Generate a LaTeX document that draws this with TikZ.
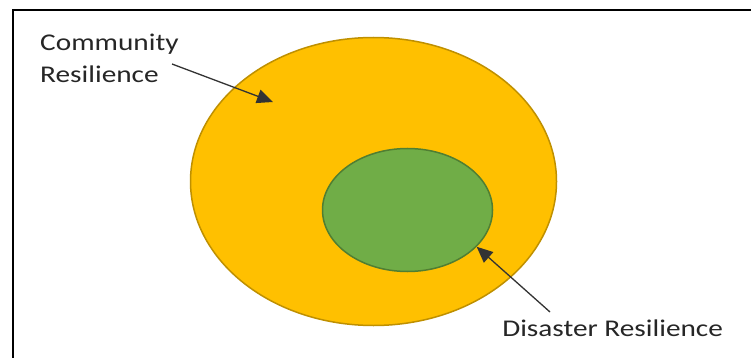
\documentclass[tikz,border=0pt]{standalone}
\usepackage{fontspec}
\setmainfont{Carlito}
\usetikzlibrary{arrows.meta,shapes.geometric}

\definecolor{gold}{HTML}{FFC000}
\definecolor{golddark}{HTML}{BF9000}
\definecolor{leaf}{HTML}{70AD47}
\definecolor{leafdark}{HTML}{507E32}

\begin{document}
\begin{tikzpicture}[x=1pt, y=-1pt,
    label/.style={inner sep=0pt, align=left, text=black!85,
        font=\fontsize{24}{32}\selectfont, xscale=1.22, transform shape},
    pointer/.style={draw=black!80, line width=1.3pt,
        -{Triangle[length=16pt, width=14pt]}}]
    \useasboundingbox (0,0) rectangle (751,358);
    \clip (0,0) rectangle (751,358);
    \fill[white] (0,0) rectangle (751,358);

    % frame, running past the picture on the right and at the bottom
    \draw[line width=2.6pt] (800,10) -- (13,10) -- (13,400);

    % the two circles
    \node[ellipse, draw=golddark, line width=1.5pt, fill=gold,
        minimum width=366pt, minimum height=288pt] (community) at (373.5,181.5) {};
    \node[ellipse, draw=leafdark, line width=1.5pt, fill=leaf,
        minimum width=170pt, minimum height=123pt] (disaster) at (407.5,210) {};

    % labels
    \node[label, anchor=north west] (commlabel) at (40,34) {Community\\Resilience};
    \node[label, anchor=base west] (dislabel) at (502,336) {Disaster Resilience};

    % arrows
    \coordinate (commstart) at (172,64);
    \coordinate (commtip) at (273,102);
    \coordinate (disstart) at (550,312);
    \draw[pointer] (commstart) -- (commtip);
    \draw[pointer] (disstart) -- (disaster.-28);
\end{tikzpicture}
\end{document}
